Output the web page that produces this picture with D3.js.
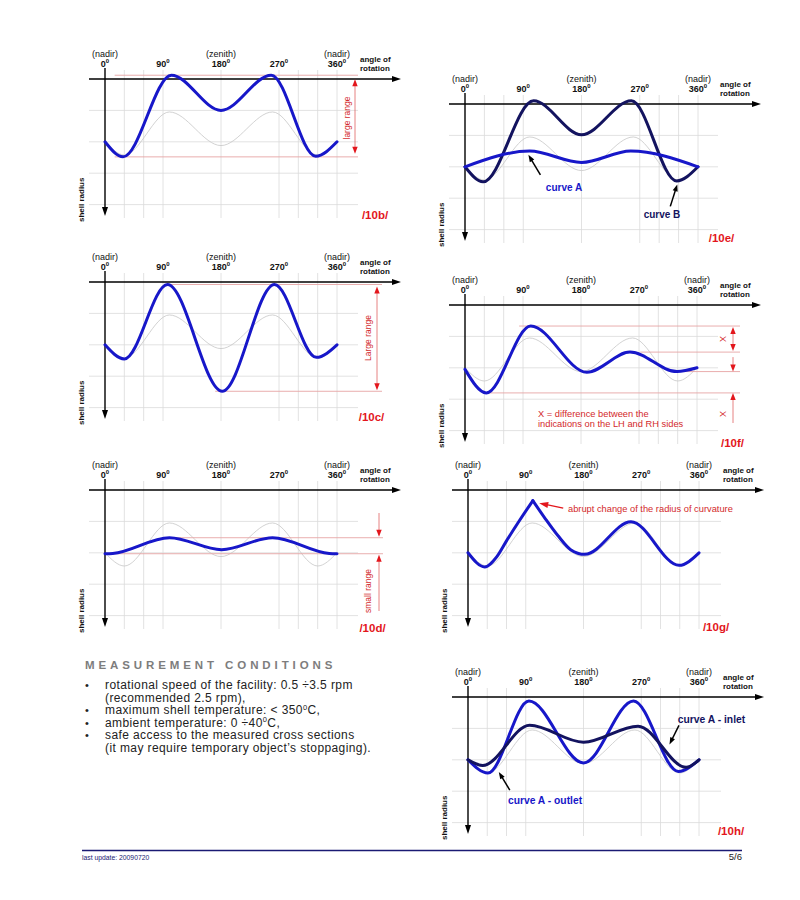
<!DOCTYPE html>
<html>
<head>
<meta charset="utf-8">
<script src="https://cdn.jsdelivr.net/npm/d3@7"></script>
<style>
  body { margin: 0; background: #fff; }
  text { font-family: "Liberation Sans", Arial, Helvetica, sans-serif; }
  .narrow { font-family: "Liberation Sans Narrow", "Liberation Sans", Arial, sans-serif; font-stretch: condensed; }
</style>
</head>
<body>
<script>
/* valeurs : angle en degrés, valeur en pas de grille sous l'axe */
const tickAngles = [0, 90, 180, 270, 360]
const tickLabels = ['0', '90', '180', '270', '360']
const tickNotes = ['(nadir)', '', '(zenith)', '', '(nadir)']
const gridAngles = [30, 60, 90, 180, 270, 300, 330, 360]
const gridLevels = [1, 2, 3, 4]

// profil de référence gris (sur chaque vignette)
const refAngle = [0, 30, 100, 180, 260, 330, 360]
const refValue = [2.0, 2.42, 1.05, 2.12, 1.05, 2.42, 2.0]

// /10b/
const bAngle = [0, 28, 103, 180, 258, 327, 360]
const bValue = [2.0, 2.48, -0.12, 1.0, -0.12, 2.46, 2.0]

// /10c/
const cAngle = [0, 30, 97, 182, 263, 328, 360]
const cValue = [2.0, 2.45, 0.08, 3.48, 0.08, 2.4, 2.0]

// /10d/
const dAngle = [0, 12, 100, 181, 260, 348, 360]
const dValue = [2.03, 2.02, 1.52, 1.9, 1.52, 2.02, 2.03]

// /10e/ curve B (dark) and curve A (blue)
const eAngleB = [0, 28, 106, 180, 257, 327, 360]
const eValueB = [2.0, 2.48, -0.1, 0.98, -0.1, 2.45, 2.0]
const eAngleA = [0, 100, 180, 256, 360]
const eValueA = [2.0, 1.5, 1.86, 1.5, 2.0]

// /10f/
const fAngle = [0, 33, 102, 189, 256, 329, 360]
const fValue = [2.05, 2.8, 0.67, 2.14, 1.5, 2.12, 2.0]

// /10g/ (coin vif à 101°)
const gAngleL = [0, 26, 45, 60, 80, 101]
const gValueL = [2.0, 2.45, 2.12, 1.62, 0.98, 0.34]
const gAngleR = [101, 120, 140, 160, 182, 254, 329, 360]
const gValueR = [0.34, 0.9, 1.45, 1.9, 2.05, 1.01, 2.4, 2.0]

// /10h/ outlet (blue) and inlet (dark)
const hAngleOut = [0, 31, 95, 180, 258, 328, 360]
const hValueOut = [2.0, 2.42, 0.13, 2.1, 0.13, 2.37, 2.0]
const hAngleIn = [0, 23, 96, 180, 265, 340, 360]
const hValueIn = [2.0, 2.18, 0.9, 1.44, 0.93, 2.24, 2.0]

const conditions = [
  { bullet: true, parts: ['rotational speed of the facility: 0.5 \u00f73.5 rpm'] },
  { bullet: false, parts: ['(recommended 2.5 rpm),'] },
  { bullet: true, parts: ['maximum shell temperature: < 350', '^0', 'C,'] },
  { bullet: true, parts: ['ambient temperature: 0 \u00f740', '^0', 'C,'] },
  { bullet: true, parts: ['safe access to the measured cross sections'] },
  { bullet: false, parts: ['(it may require temporary object\u2019s stoppaging).'] }
]

const BLUE = '#1717c9'
const NAVY = '#13135f'
const RED = '#e3161c'
const RED_TXT = '#d3292b'
const RED_LINE = '#e7a5a5'
const RED_ARROW = '#e06262'

const svg = d3.select('body').append('svg')
  .attr('width', 800)
  .attr('height', 900)

function curvePath(p, angles, values) {
  return d3.line()
    .x(d => p.x(d[0]))
    .y(d => p.y(d[1]))
    .curve(d3.curveMonotoneX)(d3.zip(angles, values))
}

function drawCurve(p, angles, values, color) {
  p.g.append('path')
    .attr('d', curvePath(p, angles, values))
    .attr('fill', 'none')
    .attr('stroke', color)
    .attr('stroke-width', 3)
    .attr('stroke-linejoin', 'miter')
    .attr('stroke-linecap', 'round')
}

// pointe de flèche : (x,y) = pointe, (ux,uy) = direction
function head(g, x, y, ux, uy, len, half, color) {
  const bx = x - ux * len, by = y - uy * len
  const px = -uy * half, py = ux * half
  g.append('path')
    .attr('d', `M${x},${y}L${bx + px},${by + py}L${bx - px},${by - py}Z`)
    .attr('fill', color)
}

function pointer(g, x1, y1, x2, y2, color, w, len, half) {
  const dx = x2 - x1, dy = y2 - y1, L = Math.hypot(dx, dy)
  const ux = dx / L, uy = dy / L
  g.append('line')
    .attr('x1', x1).attr('y1', y1)
    .attr('x2', x2 - ux * len * 0.7).attr('y2', y2 - uy * len * 0.7)
    .attr('stroke', color)
    .attr('stroke-width', w)
  head(g, x2, y2, ux, uy, len, half, color)
}

function hLine(p, value, fromAngle, x2) {
  p.g.append('line')
    .attr('x1', p.x(fromAngle)).attr('x2', x2)
    .attr('y1', p.y(value)).attr('y2', p.y(value))
    .attr('stroke', RED_LINE)
    .attr('stroke-width', 0.9)
}

function vSeg(g, x, y1, y2) {
  g.append('line')
    .attr('x1', x).attr('x2', x)
    .attr('y1', y1).attr('y2', y2)
    .attr('stroke', RED_ARROW)
    .attr('stroke-width', 0.8)
}

function rotLabel(g, x, y, txt, size, color, cls) {
  g.append('text')
    .attr('class', cls || null)
    .attr('transform', `translate(${x},${y}) rotate(-90)`)
    .attr('text-anchor', 'middle')
    .attr('dy', '0.35em')
    .attr('font-size', size)
    .attr('fill', color)
    .text(txt)
}

/**
 * vignette : grille, courbe de référence, axes et textes communs
 */
function makePanel(cfg) {
  const p = Object.assign({}, cfg)
  p.x = d3.scaleLinear().domain([0, 360]).range([p.x0, p.x0 + p.span])
  p.y = d3.scaleLinear().domain([0, 4]).range([p.y0, p.y0 + 4 * 31.4])
  p.g = svg.append('g').attr('id', 'panel' + p.name.replace(/\//g, ''))
  const g = p.g

  gridLevels.forEach(l => {
    g.append('line')
      .attr('x1', p.x0 - 16).attr('x2', p.x0 + 253)
      .attr('y1', p.y(l)).attr('y2', p.y(l))
      .attr('stroke', '#dadada')
      .attr('stroke-width', 0.8)
  })
  gridAngles.forEach(a => {
    g.append('line')
      .attr('x1', p.x(a)).attr('x2', p.x(a))
      .attr('y1', p.y0 - 9).attr('y2', p.y0 + 139)
      .attr('stroke', '#dadada')
      .attr('stroke-width', 0.8)
  })

  g.append('path')
    .attr('d', curvePath(p, refAngle, refValue))
    .attr('fill', 'none')
    .attr('stroke', '#c6c6c6')
    .attr('stroke-width', 0.8)

  // axe des angles
  g.append('line')
    .attr('x1', p.x0 - 16).attr('x2', p.x0 + 290)
    .attr('y1', p.y0).attr('y2', p.y0)
    .attr('stroke', '#000')
    .attr('stroke-width', 1.4)
  head(g, p.x0 + 296, p.y0, 1, 0, 9, 3, '#000')
  // axe du rayon
  g.append('line')
    .attr('x1', p.x0).attr('x2', p.x0)
    .attr('y1', p.y0 - 11).attr('y2', p.y0 + 131)
    .attr('stroke', '#000')
    .attr('stroke-width', 1.4)
  head(g, p.x0, p.y0 + 137, 0, 1, 9, 3, '#000')

  tickAngles.forEach((a, i) => {
    if (tickNotes[i]) {
      g.append('text')
        .attr('x', p.x(a)).attr('y', p.y0 - 22.5)
        .attr('text-anchor', 'middle')
        .attr('font-size', 9)
        .attr('fill', '#111')
        .text(tickNotes[i])
    }
    const t = g.append('text')
      .attr('x', p.x(a)).attr('y', p.y0 - 12.5)
      .attr('text-anchor', 'middle')
      .attr('font-size', 9)
      .attr('font-weight', 'bold')
      .attr('fill', '#111')
    t.append('tspan').text(tickLabels[i])
    t.append('tspan').attr('font-size', 6).attr('dy', -3.5).text('0')
  })

  g.append('text')
    .attr('x', p.x0 + 255).attr('y', p.y0 - 17)
    .attr('font-size', 8).attr('font-weight', 'bold').attr('fill', '#111')
    .text('angle of')
  g.append('text')
    .attr('x', p.x0 + 255).attr('y', p.y0 - 8)
    .attr('font-size', 8).attr('font-weight', 'bold').attr('fill', '#111')
    .text('rotation')

  g.append('text')
    .attr('class', 'narrow')
    .attr('transform', `translate(${p.x0 - 21.5},${p.y0 + 143}) rotate(-90)`)
    .attr('font-size', 8).attr('font-weight', 'bold').attr('fill', '#111')
    .text('shell radius')

  g.append('text')
    .attr('x', p.lx).attr('y', p.ly)
    .attr('text-anchor', 'middle')
    .attr('font-size', 11.5).attr('font-weight', 'bold').attr('fill', RED)
    .text(p.name)

  return p
}

// ---------- /10b/ ----------
const pb = makePanel({ name: '/10b/', x0: 105, y0: 79, span: 232, lx: 375, ly: 219 })
hLine(pb, d3.min(bValue), 15, pb.x0 + 253)
hLine(pb, d3.max(bValue), 15, pb.x0 + 253)
vSeg(pb.g, pb.x0 + 250, pb.y(d3.min(bValue)) + 8, pb.y(d3.max(bValue)) - 6)
head(pb.g, pb.x0 + 250, pb.y(d3.min(bValue)) + 4, 0, -1, 7, 2.7, RED)
head(pb.g, pb.x0 + 250, pb.y(d3.max(bValue)) - 3, 0, 1, 7, 2.7, RED)
rotLabel(pb.g, pb.x0 + 242, pb.y0 + 39, 'large range', 8.5, RED_TXT, 'narrow')
drawCurve(pb, bAngle, bValue, BLUE)

// ---------- /10c/ ----------
const pc = makePanel({ name: '/10c/', x0: 105, y0: 282, span: 232, lx: 371.5, ly: 421 })
hLine(pc, d3.min(cValue), 97, pc.x0 + 277)
hLine(pc, d3.max(cValue), 171, pc.x0 + 277)
vSeg(pc.g, pc.x0 + 272, pc.y(d3.min(cValue)) + 6, pc.y(d3.max(cValue)) - 5)
head(pc.g, pc.x0 + 272, pc.y(d3.min(cValue)) + 2, 0, -1, 7, 2.7, RED)
head(pc.g, pc.x0 + 272, pc.y(d3.max(cValue)) - 1, 0, 1, 7, 2.7, RED)
rotLabel(pc.g, pc.x0 + 263, pc.y0 + 56, 'Large range', 8.5, RED_TXT, 'narrow')
drawCurve(pc, cAngle, cValue, BLUE)

// ---------- /10d/ ----------
const pd = makePanel({ name: '/10d/', x0: 105, y0: 490, span: 232, lx: 372.5, ly: 632 })
hLine(pd, d3.min(dValue), 100, pd.x0 + 278)
hLine(pd, d3.max(dValue), 0, pd.x0 + 278)
vSeg(pd.g, pd.x0 + 274, pd.y0 + 23, pd.y(d3.min(dValue)) - 4)
head(pd.g, pd.x0 + 274, pd.y(d3.min(dValue)) - 1, 0, 1, 7, 2.7, RED)
vSeg(pd.g, pd.x0 + 274, pd.y(d3.max(dValue)) + 4, pd.y0 + 121)
head(pd.g, pd.x0 + 274, pd.y(d3.max(dValue)) + 1, 0, -1, 7, 2.7, RED)
rotLabel(pd.g, pd.x0 + 263, pd.y0 + 101, 'small range', 8.5, RED_TXT, 'narrow')
drawCurve(pd, dAngle, dValue, BLUE)

// ---------- /10e/ ----------
const pe = makePanel({ name: '/10e/', x0: 465, y0: 104, span: 233, lx: 721.5, ly: 242 })
drawCurve(pe, eAngleB, eValueB, NAVY)
drawCurve(pe, eAngleA, eValueA, BLUE)
{
  const tA = [pe.x(98), pe.y(1.62)]
  pointer(pe.g, tA[0] + 12, tA[1] + 20, tA[0], tA[1], '#000', 1.5, 7, 2.6)
  const tB = [pe.x(328), pe.y(2.56)]
  pointer(pe.g, tB[0] - 7, tB[1] + 22, tB[0], tB[1], '#000', 1.5, 7, 2.6)
  pe.g.append('text').attr('x', pe.x0 + 99).attr('y', pe.y0 + 87)
    .attr('text-anchor', 'middle').attr('font-size', 10).attr('font-weight', 'bold').attr('fill', BLUE)
    .text('curve A')
  pe.g.append('text').attr('x', pe.x0 + 197).attr('y', pe.y0 + 114)
    .attr('text-anchor', 'middle').attr('font-size', 10).attr('font-weight', 'bold').attr('fill', NAVY)
    .text('curve B')
}

// ---------- /10f/ ----------
const pf = makePanel({ name: '/10f/', x0: 465, y0: 305, span: 232, lx: 732.5, ly: 447 })
{
  const L1 = fValue[2], L2 = fValue[4], L3 = fValue[5], L4 = fValue[1]
  const xe = pf.x0 + 275, xa = pf.x0 + 268
  hLine(pf, L1, 84, xe)
  hLine(pf, L2, 272, xe)
  hLine(pf, L3, 323, xe)
  hLine(pf, L4, 28, xe)
  vSeg(pf.g, xa, pf.y(L1) + 5, pf.y(L2) - 5)
  head(pf.g, xa, pf.y(L1) + 1, 0, -1, 7, 2.7, RED)
  head(pf.g, xa, pf.y(L2) - 1, 0, 1, 7, 2.7, RED)
  vSeg(pf.g, xa, pf.y(L2) + 5, pf.y(L3) - 4)
  head(pf.g, xa, pf.y(L3), 0, 1, 7, 2.7, RED)
  vSeg(pf.g, xa, pf.y(L4) + 4, pf.y0 + 118)
  head(pf.g, xa, pf.y(L4), 0, -1, 7, 2.7, RED)
  rotLabel(pf.g, pf.x0 + 258, (pf.y(L1) + pf.y(L2)) / 2, 'X', 9, RED_TXT)
  rotLabel(pf.g, pf.x0 + 258, pf.y0 + 109, 'X', 9, RED_TXT)
  pf.g.append('text').attr('x', pf.x0 + 73).attr('y', pf.y0 + 111.5)
    .attr('font-size', 9.3).attr('fill', RED_TXT)
    .text('X = difference between the')
  pf.g.append('text').attr('x', pf.x0 + 73).attr('y', pf.y0 + 121.5)
    .attr('font-size', 9.3).attr('fill', RED_TXT)
    .text('indications on the LH and RH sides')
}
drawCurve(pf, fAngle, fValue, BLUE)

// ---------- /10g/ ----------
const pg = makePanel({ name: '/10g/', x0: 468, y0: 490, span: 231, lx: 716, ly: 631 })
drawCurve(pg, gAngleL, gValueL, BLUE)
drawCurve(pg, gAngleR, gValueR, BLUE)
{
  const t = [pg.x(111), pg.y(0.42)]
  pointer(pg.g, t[0] + 24, t[1] + 5, t[0], t[1], RED, 1.3, 9, 3)
  pg.g.append('text').attr('x', pg.x0 + 100).attr('y', pg.y0 + 21.5)
    .attr('font-size', 9.3).attr('fill', RED_TXT)
    .text('abrupt change of the radius of curvature')
}

// ---------- /10h/ ----------
const ph = makePanel({ name: '/10h/', x0: 468, y0: 697, span: 231, lx: 731, ly: 835 })
drawCurve(ph, hAngleOut, hValueOut, BLUE)
drawCurve(ph, hAngleIn, hValueIn, NAVY)
{
  const tIn = [ph.x(314), ph.y(1.51)]
  pointer(ph.g, tIn[0] + 9.5, tIn[1] - 19, tIn[0], tIn[1], '#000', 1.5, 7, 2.6)
  const tOut = [ph.x(48), ph.y(2.39)]
  pointer(ph.g, tOut[0] + 11, tOut[1] + 18, tOut[0], tOut[1], '#000', 1.5, 7, 2.6)
  ph.g.append('text').attr('x', ph.x0 + 243.5).attr('y', ph.y0 + 26)
    .attr('text-anchor', 'middle').attr('font-size', 10.3).attr('font-weight', 'bold').attr('fill', NAVY)
    .text('curve A - inlet')
  ph.g.append('text').attr('x', ph.x0 + 77).attr('y', ph.y0 + 106.5)
    .attr('text-anchor', 'middle').attr('font-size', 10.3).attr('font-weight', 'bold').attr('fill', BLUE)
    .text('curve A - outlet')
}

// ---------- measurement conditions ----------
const mc = svg.append('g').attr('id', 'conditions')
mc.append('text')
  .attr('x', 85).attr('y', 669)
  .attr('font-size', 11.5).attr('font-weight', 'bold')
  .attr('letter-spacing', 3.9)
  .attr('fill', '#7d7d7d')
  .text('MEASUREMENT CONDITIONS')
conditions.forEach((c, i) => {
  const y = 689 + i * 12.5
  if (c.bullet) {
    mc.append('text').attr('x', 85).attr('y', y).attr('font-size', 11).attr('fill', '#222').text('\u2022')
  }
  const t = mc.append('text').attr('x', 105).attr('y', y)
    .attr('font-size', 12).attr('letter-spacing', 0.4).attr('fill', '#222')
  c.parts.forEach((s, k) => {
    if (s.startsWith('^')) {
      t.append('tspan').attr('font-size', 7.5).attr('dy', -4.5).text(s.slice(1))
    } else {
      t.append('tspan').attr('dy', k > 0 ? 4.5 : 0).text(s)
    }
  })
})

// ---------- pied de page ----------
svg.append('line')
  .attr('x1', 82).attr('x2', 742)
  .attr('y1', 850.5).attr('y2', 850.5)
  .attr('stroke', '#1a1a73')
  .attr('stroke-width', 1.3)
svg.append('text')
  .attr('x', 82).attr('y', 860)
  .attr('font-size', 6.8).attr('fill', '#1a1a73')
  .text('last update: 20090720')
svg.append('text')
  .attr('x', 742).attr('y', 859.5)
  .attr('text-anchor', 'end')
  .attr('font-size', 9.5).attr('fill', '#222')
  .text('5/6')
</script>
</body>
</html>
